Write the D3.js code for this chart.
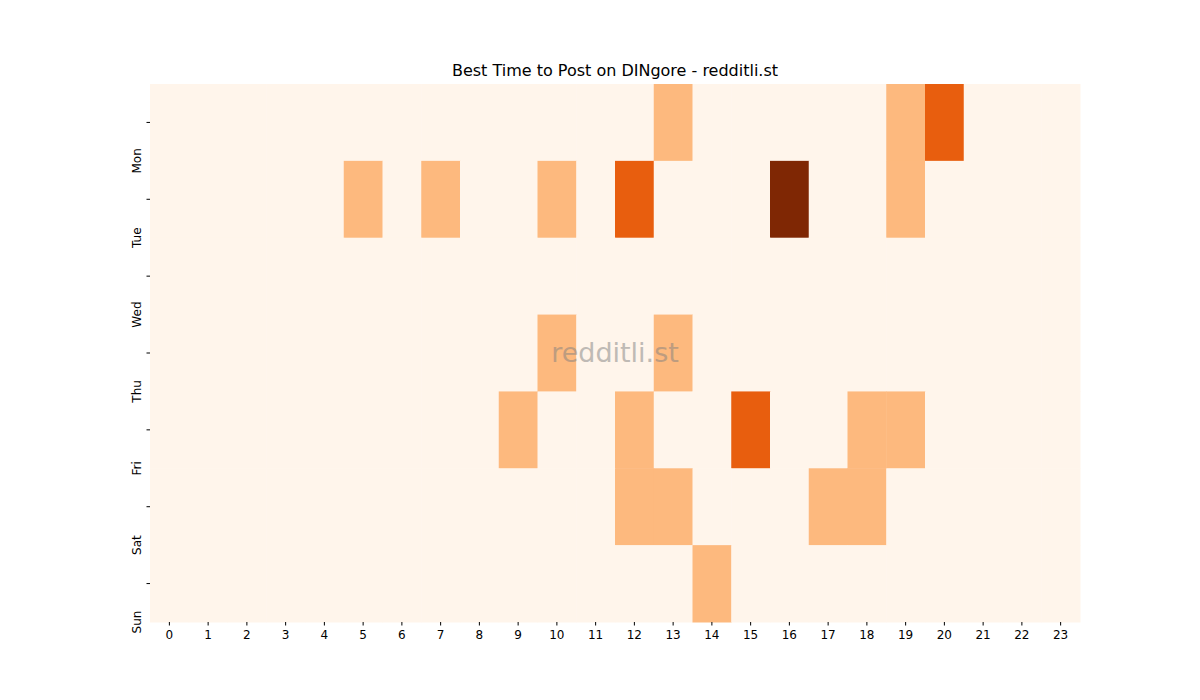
<!DOCTYPE html>
<html><head><meta charset="utf-8">
<script src="https://cdn.jsdelivr.net/npm/d3@7"></script>
<style>body{margin:0;background:#fff;font-family:"DejaVu Sans",sans-serif}</style>
</head><body><svg id="c" width="1200" height="700"></svg>
<script>
const days = ["Mon","Tue","Wed","Thu","Fri","Sat","Sun"];
const hours = d3.range(24).map(String);
const monVals = [0,0,0,0,0,0,0,0,0,0,0,0,0,1,0,0,0,0,0,1,2,0,0,0];
const tueVals = [0,0,0,0,0,1,0,1,0,0,1,0,2,0,0,0,3,0,0,1,0,0,0,0];
const wedVals = [0,0,0,0,0,0,0,0,0,0,0,0,0,0,0,0,0,0,0,0,0,0,0,0];
const thuVals = [0,0,0,0,0,0,0,0,0,0,1,0,0,1,0,0,0,0,0,0,0,0,0,0];
const friVals = [0,0,0,0,0,0,0,0,0,1,0,0,1,0,0,2,0,0,1,1,0,0,0,0];
const satVals = [0,0,0,0,0,0,0,0,0,0,0,0,1,1,0,0,0,1,1,0,0,0,0,0];
const sunVals = [0,0,0,0,0,0,0,0,0,0,0,0,0,0,1,0,0,0,0,0,0,0,0,0];
const rows = [monVals,tueVals,wedVals,thuVals,friVals,satVals,sunVals];

const svg = d3.select("#c");
const L=150,R=1080,T=84,B=622;
const x = d3.scaleBand().domain(hours).range([L,R]);
const y = d3.scaleBand().domain(days).range([T,B]);
const color = d3.scaleSequential(d3.interpolateOranges).domain([0,3]);
const cells = [];
rows.forEach((r,i)=>r.forEach((v,j)=>cells.push({d:days[i],h:hours[j],v})));
svg.append("g").selectAll("rect").data(cells).join("rect")
  .attr("x",d=>x(d.h)).attr("y",d=>y(d.d))
  .attr("width",x.bandwidth()+0.5).attr("height",y.bandwidth()+0.5)
  .attr("fill",d=>color(d.v));
const xa = svg.append("g").attr("transform",`translate(0,${B})`).call(d3.axisBottom(x).tickSizeOuter(0).tickSize(3.5));
xa.select(".domain").remove();
xa.selectAll("text").attr("font-size",12).attr("font-family","DejaVu Sans").attr("dy","0.9em");
const ya = svg.append("g").attr("transform",`translate(${L},0)`).call(d3.axisLeft(y).tickSizeOuter(0).tickSize(3.5));
ya.select(".domain").remove();
ya.selectAll("text").attr("font-size",12).attr("font-family","DejaVu Sans")
  .attr("transform",d=>`rotate(-90,-7,${y(d)+y.bandwidth()/2})`)
  .attr("x",-7).attr("y",y.bandwidth()/2-2).attr("dy",0).attr("text-anchor","middle")
  .attr("transform",function(d){return `rotate(-90,-7,${y.bandwidth()/2})`;});
svg.append("text").attr("x",(L+R)/2).attr("y",76).attr("text-anchor","middle")
  .attr("font-size",16).attr("font-family","DejaVu Sans").text("Best Time to Post on DINgore - redditli.st");
svg.append("text").attr("x",(L+R)/2).attr("y",362).attr("text-anchor","middle")
  .attr("font-size",27).attr("font-family","DejaVu Sans").attr("fill","#808080").attr("opacity",0.5).text("redditli.st");
</script></body></html>
